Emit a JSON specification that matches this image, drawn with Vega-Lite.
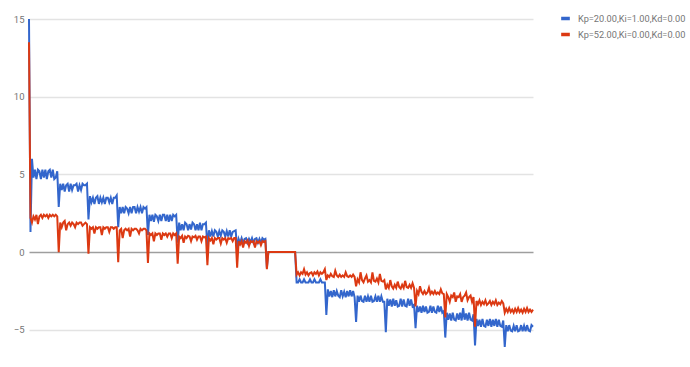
{
  "$schema": "https://vega.github.io/schema/vega-lite/v6.json",
  "autosize": {"type": "none"},
  "padding": {"left": 29, "top": 19, "right": 157, "bottom": 17},
  "width": 504,
  "height": 331,
  "background": "white",
  "config": {
    "view": {"stroke": null},
    "font": "Roboto",
    "axis": {"labelFont": "Roboto", "labelFontSize": 9.5, "labelColor": "#757575"},
    "legend": {"labelFont": "Roboto", "labelFontSize": 9.2, "labelColor": "#757575"}
  },
  "data": {"values": [
    {"x":0,"a":15,"b":13.5},{"x":1,"a":1.3,"b":2.2},{"x":2,"a":6.0,"b":1.9},{"x":3,"a":4.8,"b":2.3},{"x":4,"a":5.3,"b":2.1},{"x":5,"a":4.7,"b":2.4},{"x":6,"a":5.3,"b":1.8},{"x":7,"a":5.2,"b":2.3},{"x":8,"a":4.7,"b":2.4},{"x":9,"a":5.3,"b":2.2},{"x":10,"a":4.8,"b":2.4},{"x":11,"a":5.3,"b":2.3},{"x":12,"a":4.7,"b":2.4},{"x":13,"a":5.2,"b":2.2},{"x":14,"a":5.3,"b":2.4},{"x":15,"a":4.8,"b":2.3},{"x":16,"a":5.3,"b":2.4},{"x":17,"a":4.7,"b":2.3},{"x":18,"a":4.8,"b":2.4},{"x":19,"a":5.2,"b":2.3},
    {"x":20,"a":2.9,"b":0.0},{"x":21,"a":4.4,"b":1.9},{"x":22,"a":4.0,"b":1.6},{"x":23,"a":4.4,"b":1.9},{"x":24,"a":3.9,"b":2.0},{"x":25,"a":4.3,"b":1.4},{"x":26,"a":4.4,"b":1.8},{"x":27,"a":3.9,"b":1.9},{"x":28,"a":4.4,"b":1.7},{"x":29,"a":4.0,"b":1.9},{"x":30,"a":4.3,"b":1.8},{"x":31,"a":4.3,"b":1.6},{"x":32,"a":4.4,"b":1.9},{"x":33,"a":3.9,"b":1.8},{"x":34,"a":4.3,"b":1.9},{"x":35,"a":4.0,"b":1.9},{"x":36,"a":4.4,"b":1.7},{"x":37,"a":4.3,"b":1.8},{"x":38,"a":4.3,"b":1.9},{"x":39,"a":4.4,"b":1.8},
    {"x":40,"a":2.1,"b":-0.1},{"x":41,"a":3.6,"b":1.6},{"x":42,"a":3.2,"b":1.5},{"x":43,"a":3.5,"b":1.6},{"x":44,"a":3.1,"b":1.2},{"x":45,"a":3.5,"b":1.6},{"x":46,"a":3.6,"b":1.5},{"x":47,"a":3.1,"b":1.6},{"x":48,"a":3.5,"b":1.6},{"x":49,"a":3.2,"b":1.1},{"x":50,"a":3.5,"b":1.6},{"x":51,"a":3.1,"b":1.5},{"x":52,"a":3.5,"b":1.6},{"x":53,"a":3.5,"b":1.6},{"x":54,"a":3.2,"b":1.3},{"x":55,"a":3.5,"b":1.6},{"x":56,"a":3.1,"b":1.6},{"x":57,"a":3.5,"b":1.5},{"x":58,"a":3.5,"b":1.6},{"x":59,"a":3.65,"b":1.6},
    {"x":60,"a":1.6,"b":-0.65},{"x":61,"a":2.9,"b":1.4},{"x":62,"a":2.5,"b":1.5},{"x":63,"a":2.9,"b":0.9},{"x":64,"a":2.5,"b":1.4},{"x":65,"a":2.9,"b":1.5},{"x":66,"a":2.8,"b":1.4},{"x":67,"a":2.5,"b":1.5},{"x":68,"a":2.9,"b":1.0},{"x":69,"a":2.5,"b":1.5},{"x":70,"a":2.9,"b":1.4},{"x":71,"a":2.9,"b":1.5},{"x":72,"a":2.5,"b":1.5},{"x":73,"a":2.9,"b":1.4},{"x":74,"a":2.6,"b":1.2},{"x":75,"a":2.9,"b":1.5},{"x":76,"a":2.5,"b":1.4},{"x":77,"a":2.9,"b":1.5},{"x":78,"a":2.8,"b":1.5},{"x":79,"a":2.9,"b":1.4},
    {"x":80,"a":1.1,"b":-0.7},{"x":81,"a":2.4,"b":1.2},{"x":82,"a":2.0,"b":1.1},{"x":83,"a":2.4,"b":1.2},{"x":84,"a":1.95,"b":0.7},{"x":85,"a":2.4,"b":1.2},{"x":86,"a":2.3,"b":1.1},{"x":87,"a":2.0,"b":1.2},{"x":88,"a":2.4,"b":1.2},{"x":89,"a":2.0,"b":0.8},{"x":90,"a":2.4,"b":1.2},{"x":91,"a":2.4,"b":1.1},{"x":92,"a":2.0,"b":1.2},{"x":93,"a":2.4,"b":1.0},{"x":94,"a":1.95,"b":1.2},{"x":95,"a":2.4,"b":1.2},{"x":96,"a":2.0,"b":0.9},{"x":97,"a":2.4,"b":1.2},{"x":98,"a":2.3,"b":1.1},{"x":99,"a":2.4,"b":1.2},
    {"x":100,"a":0.6,"b":-0.75},{"x":101,"a":1.9,"b":1.0},{"x":102,"a":1.4,"b":0.9},{"x":103,"a":1.8,"b":1.05},{"x":104,"a":1.4,"b":0.6},{"x":105,"a":1.9,"b":1.0},{"x":106,"a":1.8,"b":0.9},{"x":107,"a":1.4,"b":1.05},{"x":108,"a":1.8,"b":1.0},{"x":109,"a":1.45,"b":0.7},{"x":110,"a":1.9,"b":1.0},{"x":111,"a":1.8,"b":0.95},{"x":112,"a":1.4,"b":1.05},{"x":113,"a":1.8,"b":0.8},{"x":114,"a":1.4,"b":1.0},{"x":115,"a":1.9,"b":1.0},{"x":116,"a":1.4,"b":0.7},{"x":117,"a":1.8,"b":1.0},{"x":118,"a":1.8,"b":0.95},{"x":119,"a":1.9,"b":1.0},
    {"x":120,"a":0.3,"b":-0.85},{"x":121,"a":1.4,"b":0.9},{"x":122,"a":1.0,"b":0.75},{"x":123,"a":1.35,"b":0.9},{"x":124,"a":1.0,"b":0.5},{"x":125,"a":1.4,"b":0.9},{"x":126,"a":1.3,"b":0.8},{"x":127,"a":1.0,"b":0.9},{"x":128,"a":1.35,"b":0.9},{"x":129,"a":1.05,"b":0.55},{"x":130,"a":1.4,"b":0.9},{"x":131,"a":1.3,"b":0.8},{"x":132,"a":1.0,"b":0.9},{"x":133,"a":1.35,"b":0.6},{"x":134,"a":1.0,"b":0.9},{"x":135,"a":1.4,"b":0.85},{"x":136,"a":1.0,"b":0.9},{"x":137,"a":1.3,"b":0.7},{"x":138,"a":1.35,"b":0.9},{"x":139,"a":1.4,"b":0.9},
    {"x":140,"a":0.2,"b":-1.0},{"x":141,"a":0.85,"b":0.7},{"x":142,"a":0.6,"b":0.5},{"x":143,"a":0.9,"b":0.7},{"x":144,"a":0.6,"b":0.3},{"x":145,"a":0.85,"b":0.7},{"x":146,"a":0.9,"b":0.6},{"x":147,"a":0.6,"b":0.75},{"x":148,"a":0.85,"b":0.4},{"x":149,"a":0.65,"b":0.7},{"x":150,"a":0.9,"b":0.65},{"x":151,"a":0.6,"b":0.7},{"x":152,"a":0.85,"b":0.3},{"x":153,"a":0.9,"b":0.7},{"x":154,"a":0.6,"b":0.6},{"x":155,"a":0.85,"b":0.7},{"x":156,"a":0.6,"b":0.45},{"x":157,"a":0.9,"b":0.7},{"x":158,"a":0.8,"b":0.65},{"x":159,"a":0.85,"b":0.7},
    {"x":160,"a":-1.0,"b":-1.1},{"x":161,"a":0,"b":0},{"x":162,"a":0,"b":0},{"x":163,"a":0,"b":0},{"x":164,"a":0,"b":0},{"x":165,"a":0,"b":0},{"x":166,"a":0,"b":0},{"x":167,"a":0,"b":0},{"x":168,"a":0,"b":0},{"x":169,"a":0,"b":0},{"x":170,"a":0,"b":0},{"x":171,"a":0,"b":0},{"x":172,"a":0,"b":0},{"x":173,"a":0,"b":0},{"x":174,"a":0,"b":0},{"x":175,"a":0,"b":0},{"x":176,"a":0,"b":0},{"x":177,"a":0,"b":0},{"x":178,"a":0,"b":0},{"x":179,"a":0,"b":0},
    {"x":180,"a":-1.95,"b":-1.45},{"x":181,"a":-1.95,"b":-1.3},{"x":182,"a":-1.75,"b":-1.5},{"x":183,"a":-1.95,"b":-1.3},{"x":184,"a":-1.95,"b":-1.4},{"x":185,"a":-1.75,"b":-1.1},{"x":186,"a":-1.95,"b":-1.45},{"x":187,"a":-1.95,"b":-1.3},{"x":188,"a":-1.95,"b":-1.5},{"x":189,"a":-1.75,"b":-1.35},{"x":190,"a":-1.95,"b":-1.3},{"x":191,"a":-1.95,"b":-1.5},{"x":192,"a":-1.75,"b":-1.3},{"x":193,"a":-1.95,"b":-1.4},{"x":194,"a":-1.95,"b":-1.25},{"x":195,"a":-1.95,"b":-1.5},{"x":196,"a":-1.75,"b":-1.3},{"x":197,"a":-1.95,"b":-1.4},{"x":198,"a":-1.95,"b":-1.3},{"x":199,"a":-1.95,"b":-1.1},
    {"x":200,"a":-4.05,"b":-1.8},{"x":201,"a":-2.4,"b":-1.5},{"x":202,"a":-2.85,"b":-1.6},{"x":203,"a":-2.5,"b":-1.4},{"x":204,"a":-2.9,"b":-1.55},{"x":205,"a":-2.45,"b":-1.6},{"x":206,"a":-2.85,"b":-1.2},{"x":207,"a":-2.5,"b":-1.5},{"x":208,"a":-2.8,"b":-1.6},{"x":209,"a":-2.9,"b":-1.45},{"x":210,"a":-2.45,"b":-1.6},{"x":211,"a":-2.85,"b":-1.5},{"x":212,"a":-2.55,"b":-1.6},{"x":213,"a":-2.9,"b":-1.3},{"x":214,"a":-2.5,"b":-1.55},{"x":215,"a":-2.85,"b":-1.6},{"x":216,"a":-2.45,"b":-1.5},{"x":217,"a":-2.85,"b":-1.6},{"x":218,"a":-2.5,"b":-1.45},{"x":219,"a":-2.9,"b":-1.6},
    {"x":220,"a":-4.5,"b":-2.2},{"x":221,"a":-2.8,"b":-1.75},{"x":222,"a":-3.2,"b":-1.95},{"x":223,"a":-2.8,"b":-1.3},{"x":224,"a":-3.15,"b":-1.8},{"x":225,"a":-3.2,"b":-1.95},{"x":226,"a":-2.8,"b":-1.7},{"x":227,"a":-3.2,"b":-1.5},{"x":228,"a":-2.85,"b":-1.9},{"x":229,"a":-3.2,"b":-1.8},{"x":230,"a":-2.8,"b":-1.95},{"x":231,"a":-3.2,"b":-1.3},{"x":232,"a":-3.15,"b":-1.85},{"x":233,"a":-2.85,"b":-1.9},{"x":234,"a":-3.2,"b":-1.7},{"x":235,"a":-2.8,"b":-1.95},{"x":236,"a":-3.2,"b":-1.4},{"x":237,"a":-2.85,"b":-1.85},{"x":238,"a":-3.2,"b":-1.9},{"x":239,"a":-3.2,"b":-1.8},
    {"x":240,"a":-5.15,"b":-2.4},{"x":241,"a":-3.0,"b":-2.1},{"x":242,"a":-3.45,"b":-2.3},{"x":243,"a":-3.05,"b":-1.8},{"x":244,"a":-3.5,"b":-2.2},{"x":245,"a":-3.0,"b":-2.35},{"x":246,"a":-3.45,"b":-2.1},{"x":247,"a":-3.1,"b":-2.3},{"x":248,"a":-3.5,"b":-1.9},{"x":249,"a":-3.45,"b":-2.25},{"x":250,"a":-3.0,"b":-2.35},{"x":251,"a":-3.5,"b":-2.1},{"x":252,"a":-3.05,"b":-2.3},{"x":253,"a":-3.45,"b":-1.85},{"x":254,"a":-3.5,"b":-2.25},{"x":255,"a":-3.0,"b":-2.3},{"x":256,"a":-3.45,"b":-2.1},{"x":257,"a":-3.05,"b":-2.3},{"x":258,"a":-3.5,"b":-2.0},{"x":259,"a":-3.4,"b":-2.3},
    {"x":260,"a":-4.9,"b":-3.5},{"x":261,"a":-3.45,"b":-2.5},{"x":262,"a":-3.85,"b":-2.7},{"x":263,"a":-3.5,"b":-2.2},{"x":264,"a":-3.9,"b":-2.55},{"x":265,"a":-3.45,"b":-2.7},{"x":266,"a":-3.85,"b":-2.5},{"x":267,"a":-3.5,"b":-2.7},{"x":268,"a":-3.9,"b":-2.6},{"x":269,"a":-3.85,"b":-2.3},{"x":270,"a":-3.45,"b":-2.7},{"x":271,"a":-3.9,"b":-2.55},{"x":272,"a":-3.5,"b":-2.7},{"x":273,"a":-3.85,"b":-2.5},{"x":274,"a":-3.9,"b":-2.7},{"x":275,"a":-3.45,"b":-2.6},{"x":276,"a":-3.85,"b":-2.7},{"x":277,"a":-3.5,"b":-2.4},{"x":278,"a":-3.9,"b":-2.65},{"x":279,"a":-3.8,"b":-2.7},
    {"x":280,"a":-5.5,"b":-4.2},{"x":281,"a":-3.9,"b":-2.7},{"x":282,"a":-4.35,"b":-2.9},{"x":283,"a":-3.95,"b":-3.2},{"x":284,"a":-4.4,"b":-2.8},{"x":285,"a":-3.9,"b":-2.9},{"x":286,"a":-4.35,"b":-2.6},{"x":287,"a":-4.4,"b":-3.2},{"x":288,"a":-3.95,"b":-2.85},{"x":289,"a":-4.35,"b":-2.9},{"x":290,"a":-3.9,"b":-2.7},{"x":291,"a":-4.4,"b":-3.2},{"x":292,"a":-3.6,"b":-2.9},{"x":293,"a":-4.35,"b":-2.8},{"x":294,"a":-3.95,"b":-2.6},{"x":295,"a":-4.4,"b":-3.1},{"x":296,"a":-3.9,"b":-2.9},{"x":297,"a":-4.35,"b":-2.8},{"x":298,"a":-4.4,"b":-3.2},{"x":299,"a":-4.0,"b":-2.9},
    {"x":300,"a":-6.0,"b":-4.8},{"x":301,"a":-4.3,"b":-3.15},{"x":302,"a":-4.75,"b":-3.35},{"x":303,"a":-4.35,"b":-3.1},{"x":304,"a":-4.8,"b":-3.4},{"x":305,"a":-4.3,"b":-3.2},{"x":306,"a":-4.75,"b":-3.35},{"x":307,"a":-4.8,"b":-3.1},{"x":308,"a":-4.35,"b":-3.4},{"x":309,"a":-4.75,"b":-3.3},{"x":310,"a":-4.3,"b":-3.15},{"x":311,"a":-4.8,"b":-3.4},{"x":312,"a":-4.35,"b":-3.2},{"x":313,"a":-4.75,"b":-3.35},{"x":314,"a":-4.3,"b":-3.1},{"x":315,"a":-4.8,"b":-3.4},{"x":316,"a":-4.35,"b":-3.25},{"x":317,"a":-4.75,"b":-3.35},{"x":318,"a":-4.8,"b":-3.15},{"x":319,"a":-4.4,"b":-3.3},
    {"x":320,"a":-6.1,"b":-3.9},{"x":321,"a":-4.7,"b":-3.65},{"x":322,"a":-5.1,"b":-3.85},{"x":323,"a":-4.7,"b":-3.6},{"x":324,"a":-5.05,"b":-3.85},{"x":325,"a":-5.1,"b":-3.7},{"x":326,"a":-4.75,"b":-3.9},{"x":327,"a":-5.1,"b":-3.65},{"x":328,"a":-4.7,"b":-3.85},{"x":329,"a":-5.1,"b":-3.6},{"x":330,"a":-5.05,"b":-3.85},{"x":331,"a":-4.7,"b":-3.7},{"x":332,"a":-5.1,"b":-3.9},{"x":333,"a":-4.75,"b":-3.65},{"x":334,"a":-5.1,"b":-3.85},{"x":335,"a":-4.7,"b":-3.6},{"x":336,"a":-5.05,"b":-3.85},{"x":337,"a":-5.1,"b":-3.7},{"x":338,"a":-4.7,"b":-3.85},{"x":339,"a":-4.8,"b":-3.7}
  ]},
  "transform": [{"fold": ["a", "b"], "as": ["series", "value"]}],
  "mark": {"type": "line", "strokeWidth": 2, "interpolate": "linear"},
  "encoding": {
    "x": {"field": "x", "type": "quantitative", "scale": {"domain": [0, 339], "nice": false, "zero": false}, "axis": null},
    "y": {
      "field": "value", "type": "quantitative",
      "scale": {"domain": [-6.3, 15], "nice": false, "zero": false},
      "axis": {
        "title": null, "values": [-5, 0, 5, 10, 15], "domain": false, "ticks": false,
        "labelPadding": 5, "gridWidth": 1.3,
        "gridColor": {"condition": {"test": "datum.value === 0", "value": "#9e9e9e"}, "value": "#e3e3e3"}
      }
    },
    "color": {
      "field": "series", "type": "nominal",
      "scale": {"domain": ["a", "b"], "range": ["#3366cc", "#dc3912"]},
      "legend": {
        "title": null, "orient": "none", "legendX": 530, "legendY": -7,
        "symbolType": "stroke", "symbolStrokeWidth": 3.5, "symbolSize": 75,
        "labelExpr": "datum.value == 'a' ? 'Kp=20.00,Ki=1.00,Kd=0.00' : 'Kp=52.00,Ki=0.00,Kd=0.00'",
        "rowPadding": 1, "labelOffset": 6
      }
    }
  }
}
